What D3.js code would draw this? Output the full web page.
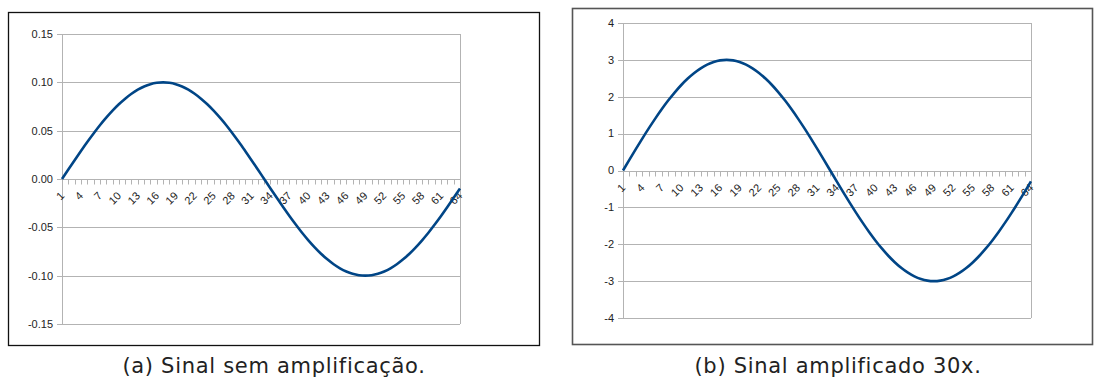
<!DOCTYPE html>
<html>
<head>
<meta charset="utf-8">
<script src="https://cdn.jsdelivr.net/npm/d3@7"></script>
<style>
  body { margin: 0; background: #fff; }
  svg { display: block; }
  .tick_label { font-family: "Liberation Sans", Arial, sans-serif; font-size: 11px; fill: #222; }
  .caption { font-family: "DejaVu Sans", sans-serif; font-size: 21px; letter-spacing: 0.7px; fill: #222; }
</style>
</head>
<body>
<svg width="1095" height="380"></svg>
<script>
// sample index (x axis categories)
var categories = [1, 2, 3, 4, 5, 6, 7, 8, 9, 10, 11, 12, 13, 14, 15, 16,
  17, 18, 19, 20, 21, 22, 23, 24, 25, 26, 27, 28, 29, 30, 31, 32,
  33, 34, 35, 36, 37, 38, 39, 40, 41, 42, 43, 44, 45, 46, 47, 48,
  49, 50, 51, 52, 53, 54, 55, 56, 57, 58, 59, 60, 61, 62, 63, 64];

var x_tick_labels = [1, 4, 7, 10, 13, 16, 19, 22, 25, 28, 31, 34, 37, 40, 43, 46, 49, 52, 55, 58, 61, 64];

// signal without amplification
var signal_raw = [0, 0.0098, 0.0195, 0.0290, 0.0383, 0.0471, 0.0556, 0.0634, 0.0707, 0.0773, 0.0831, 0.0882, 0.0924, 0.0957, 0.0981, 0.0995,
  0.1000, 0.0995, 0.0981, 0.0957, 0.0924, 0.0882, 0.0831, 0.0773, 0.0707, 0.0634, 0.0556, 0.0471, 0.0383, 0.0290, 0.0195, 0.0098,
  0, -0.0098, -0.0195, -0.0290, -0.0383, -0.0471, -0.0556, -0.0634, -0.0707, -0.0773, -0.0831, -0.0882, -0.0924, -0.0957, -0.0981, -0.0995,
  -0.1000, -0.0995, -0.0981, -0.0957, -0.0924, -0.0882, -0.0831, -0.0773, -0.0707, -0.0634, -0.0556, -0.0471, -0.0383, -0.0290, -0.0195, -0.0098];

// signal amplified 30x
var signal_amp = [0, 0.294, 0.585, 0.871, 1.148, 1.414, 1.667, 1.903, 2.121, 2.319, 2.494, 2.646, 2.772, 2.871, 2.942, 2.986,
  3.000, 2.986, 2.942, 2.871, 2.772, 2.646, 2.494, 2.319, 2.121, 1.903, 1.667, 1.414, 1.148, 0.871, 0.585, 0.294,
  0, -0.294, -0.585, -0.871, -1.148, -1.414, -1.667, -1.903, -2.121, -2.319, -2.494, -2.646, -2.772, -2.871, -2.942, -2.986,
  -3.000, -2.986, -2.942, -2.871, -2.772, -2.646, -2.494, -2.319, -2.121, -1.903, -1.667, -1.414, -1.148, -0.871, -0.585, -0.294];

var y_ticks_raw = [-0.15, -0.10, -0.05, 0, 0.05, 0.10, 0.15];
var y_ticks_amp = [-4, -3, -2, -1, 0, 1, 2, 3, 4];

var captions = ["(a) Sinal sem amplificação.", "(b) Sinal amplificado 30x."];

var svg = d3.select("svg");
var grid_color = "#b3b3b3";
var line_color = "#004586";

function draw_chart(opts) {
  var g = svg.append("g");

  // outer frame
  g.append("rect")
    .attr("x", opts.frame.x).attr("y", opts.frame.y)
    .attr("width", opts.frame.w).attr("height", opts.frame.h)
    .attr("fill", "none")
    .attr("stroke", opts.frame_color)
    .attr("stroke-width", opts.frame_width);

  var x = d3.scalePoint()
    .domain(categories)
    .range([opts.plot.left, opts.plot.right]);

  var y = d3.scaleLinear()
    .domain(d3.extent(opts.ticks))
    .range([opts.plot.bottom, opts.plot.top]);

  // horizontal grid lines
  g.selectAll("line.grid")
    .data(opts.ticks)
    .enter()
    .append("line")
      .attr("class", "grid")
      .attr("x1", opts.plot.left - 5).attr("x2", opts.plot.right)
      .attr("y1", function(d) { return Math.round(y(d)) + 0.5 })
      .attr("y2", function(d) { return Math.round(y(d)) + 0.5 })
      .attr("stroke", grid_color);

  // left axis and right border
  [opts.plot.left, opts.plot.right].forEach(function(px) {
    g.append("line")
      .attr("x1", Math.round(px) + 0.5).attr("x2", Math.round(px) + 0.5)
      .attr("y1", opts.plot.top).attr("y2", opts.plot.bottom)
      .attr("stroke", grid_color);
  });

  // y labels
  g.selectAll("text.ylab")
    .data(opts.ticks)
    .enter()
    .append("text")
      .attr("class", "tick_label")
      .attr("x", opts.plot.left - 9)
      .attr("y", function(d) { return y(d) })
      .attr("dy", "0.35em")
      .attr("text-anchor", "end")
      .text(function(d) { return d3.format(opts.fmt)(d).replace("−", "-") });

  // x axis along zero with a small tick per sample
  var y0 = Math.round(y(0)) + 0.5;
  g.selectAll("line.xtick")
    .data(categories)
    .enter()
    .append("line")
      .attr("x1", function(d) { return Math.round(x(d)) + 0.5 })
      .attr("x2", function(d) { return Math.round(x(d)) + 0.5 })
      .attr("y1", y0).attr("y2", y0 + 5)
      .attr("stroke", grid_color);

  g.selectAll("text.xlab")
    .data(x_tick_labels)
    .enter()
    .append("text")
      .attr("class", "tick_label")
      .attr("text-anchor", "end")
      .attr("transform", function(d) {
        return "translate(" + (x(d) + 3) + "," + (y0 + 17) + ") rotate(-45)";
      })
      .text(function(d) { return d });

  var line = d3.line()
    .x(function(d, i) { return x(categories[i]) })
    .y(function(d) { return y(d) })
    .curve(d3.curveMonotoneX);

  g.append("path")
    .datum(opts.values)
    .attr("d", line)
    .attr("fill", "none")
    .attr("stroke", line_color)
    .attr("stroke-width", 2.6);

  g.append("text")
    .attr("class", "caption")
    .attr("x", opts.caption_x)
    .attr("y", 373)
    .attr("text-anchor", "middle")
    .text(opts.caption);
}

draw_chart({
  frame: {x: 8.5, y: 12.5, w: 531, h: 333},
  frame_color: "#111", frame_width: 1.3,
  plot: {left: 62, right: 460, top: 34, bottom: 324},
  ticks: y_ticks_raw, fmt: ".2f",
  values: signal_raw,
  caption: captions[0], caption_x: 274
});

draw_chart({
  frame: {x: 572.5, y: 8.5, w: 520, h: 336},
  frame_color: "#555", frame_width: 1.6,
  plot: {left: 623, right: 1031, top: 23, bottom: 318},
  ticks: y_ticks_amp, fmt: "d",
  values: signal_amp,
  caption: captions[1], caption_x: 838
});
</script>
</body>
</html>
